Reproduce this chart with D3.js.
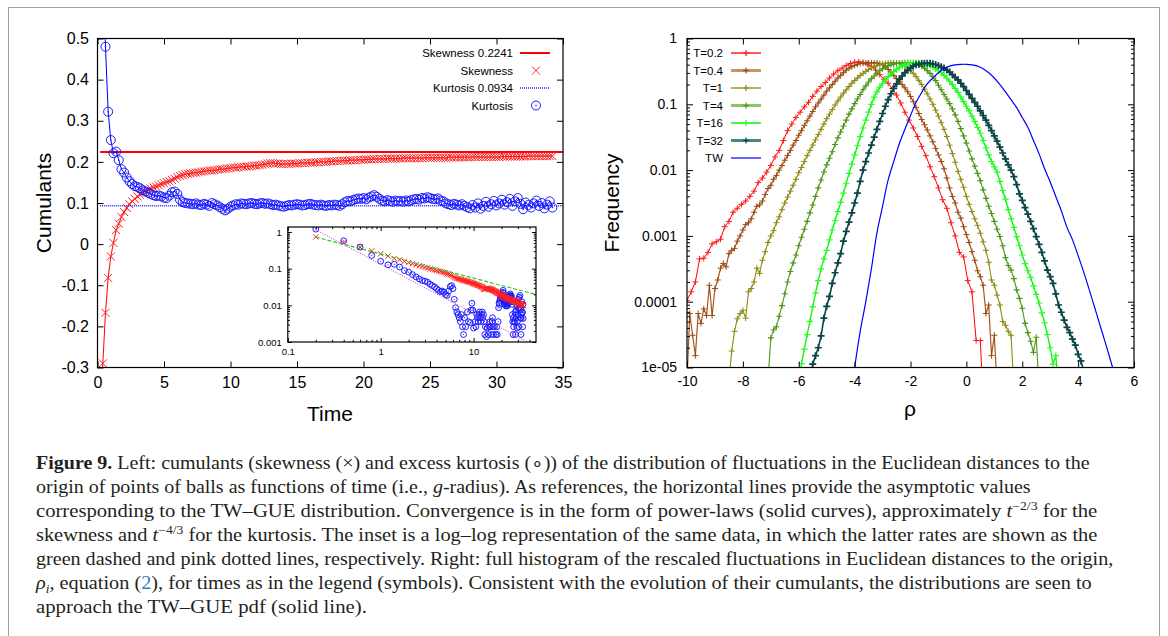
<!DOCTYPE html>
<html>
<head>
<meta charset="utf-8">
<script src="https://cdn.jsdelivr.net/npm/d3@7"></script>
<style>
  body { margin: 0; background: #fff; }
  svg text { font-family: "Liberation Sans", Arial, sans-serif; }
</style>
</head>
<body>
<svg id="fig" width="1168" height="636"></svg>
<script>
// ---------- left panel: cumulants vs time (t = 0.2, 0.4, ... 34.2) ----------
const tStart = 0.2, tStep = 0.2;
const skewness = [
  -0.51,-0.29,-0.167,-0.082,-0.03,0.003,0.034,0.050,0.066,0.078,
  0.088,0.097,0.104,0.110,0.116,0.120,0.125,0.129,0.132,0.135,
  0.138,0.140,0.143,0.146,0.148,0.151,0.153,0.156,0.159,0.163,
  0.166,0.168,0.170,0.171,0.172,0.173,0.174,0.175,0.176,0.177,
  0.178,0.179,0.179,0.180,0.181,0.182,0.182,0.183,0.184,0.185,
  0.186,0.186,0.187,0.188,0.188,0.189,0.189,0.190,0.191,0.191,
  0.192,0.193,0.194,0.196,0.197,0.197,0.196,0.196,0.195,0.195,
  0.195,0.195,0.196,0.196,0.196,0.197,0.197,0.197,0.198,0.198,
  0.198,0.199,0.199,0.200,0.200,0.200,0.201,0.201,0.202,0.202,
  0.202,0.203,0.203,0.203,0.204,0.204,0.204,0.205,0.205,0.205,
  0.206,0.206,0.206,0.207,0.207,0.207,0.207,0.207,0.208,0.208,
  0.208,0.208,0.208,0.208,0.209,0.209,0.209,0.209,0.209,0.209,
  0.209,0.209,0.210,0.210,0.210,0.210,0.210,0.210,0.210,0.210,
  0.210,0.211,0.211,0.211,0.211,0.211,0.211,0.211,0.211,0.211,
  0.212,0.212,0.212,0.212,0.212,0.212,0.212,0.212,0.212,0.212,
  0.212,0.213,0.213,0.213,0.213,0.213,0.213,0.213,0.213,0.213,
  0.213,0.214,0.214,0.214,0.214,0.214,0.214,0.214,0.214,0.214,0.214
];
const kurtosis = [
  1.29,0.67,0.48,0.322,0.253,0.221,0.225,0.204,0.182,0.174,
  0.162,0.153,0.146,0.141,0.139,0.136,0.131,0.128,0.125,0.122,
  0.119,0.117,0.118,0.116,0.113,0.112,0.118,0.126,0.128,0.122,
  0.108,0.102,0.100,0.099,0.098,0.097,0.099,0.096,0.095,0.098,
  0.096,0.093,0.100,0.097,0.094,0.090,0.086,0.082,0.086,0.091,
  0.094,0.097,0.096,0.099,0.098,0.097,0.099,0.100,0.098,0.097,
  0.099,0.100,0.098,0.099,0.097,0.095,0.096,0.094,0.092,0.091,
  0.093,0.095,0.094,0.096,0.097,0.096,0.094,0.095,0.097,0.098,
  0.096,0.095,0.094,0.096,0.094,0.093,0.095,0.094,0.096,0.095,
  0.093,0.097,0.102,0.105,0.104,0.107,0.109,0.111,0.110,0.112,
  0.109,0.113,0.116,0.119,0.115,0.110,0.106,0.104,0.107,0.105,
  0.103,0.106,0.104,0.105,0.103,0.106,0.104,0.107,0.109,0.110,
  0.108,0.112,0.111,0.114,0.112,0.110,0.109,0.111,0.106,0.104,
  0.099,0.097,0.095,0.098,0.096,0.094,0.097,0.093,0.090,0.087,
  0.095,0.089,0.099,0.086,0.093,0.103,0.091,0.097,0.105,0.094,
  0.099,0.108,0.096,0.102,0.110,0.093,0.104,0.112,0.098,0.085,
  0.101,0.095,0.089,0.099,0.106,0.093,0.100,0.087,0.096,0.104,0.089
];
const skewRef = 0.2241, kurtRef = 0.0934;
const timeTicks = [0, 5, 10, 15, 20, 25, 30, 35];
const cumTicks = [-0.3, -0.2, -0.1, 0, 0.1, 0.2, 0.3, 0.4, 0.5];
const leftLegend = ["Skewness 0.2241", "Skewness", "Kurtosis 0.0934", "Kurtosis"];

// inset (log-log of |cumulant - reference|)
const insetXTicks = [0.1, 1, 10];
const insetXLabels = ["0.1", "1", "10"];
const insetYTicks = [0.001, 0.01, 0.1, 1];
const insetYLabels = ["0.001", "0.01", "0.1", "1"];
const greenFit = [[0.2, 0.73], [47, 0.0198]];   // ~ t^-2/3
const pinkFit = [[0.2, 1.15], [38, 0.001]];     // ~ t^-4/3

// ---------- right panel: histograms of rho (log10 frequency per bin) ----------
const histLabels = ["T=0.2", "T=0.4", "T=1", "T=4", "T=16", "T=32"];
const histStart = [-10.0, -10.0, -8.5, -7.1, -6.0, -5.6];
const histStep = [0.15, 0.1, 0.1, 0.1, 0.1, 0.1];
const logFreqT02 = [
  -3.98,-3.85,-3.70,-3.35,-3.34,-3.25,-3.12,-3.09,-3.05,-2.86,
  -2.78,-2.64,-2.58,-2.52,-2.47,-2.40,-2.32,-2.19,-2.12,-2.03,
  -1.93,-1.80,-1.70,-1.55,-1.40,-1.30,-1.20,-1.12,-1.04,-0.97,
  -0.88,-0.80,-0.73,-0.67,-0.60,-0.54,-0.49,-0.45,-0.41,-0.38,
  -0.36,-0.355,-0.365,-0.39,-0.42,-0.48,-0.55,-0.62,-0.68,-0.76,
  -0.86,-0.98,-1.12,-1.24,-1.36,-1.49,-1.64,-1.78,-1.95,-2.10,
  -2.27,-2.45,-2.58,-2.80,-3.0,-3.25,-3.32,-3.68,-3.85,-4.59,
  -4.59,-6
];
const logFreqT04 = [
  -5.2,-4.18,-4.51,-4.82,-4.18,-4.33,-4.11,-4.21,-3.75,-4.21,
  -3.80,-3.67,-3.49,-3.42,-3.47,-3.27,-3.22,-3.19,-3.08,-3.0,
  -2.91,-2.83,-2.80,-2.74,-2.64,-2.55,-2.53,-2.47,-2.37,-2.28,
  -2.23,-2.14,-2.08,-2.0,
  -1.93,-1.85,-1.78,-1.70,-1.62,-1.55,-1.47,-1.40,-1.32,-1.25,
  -1.18,-1.11,-1.04,-0.98,-0.92,-0.86,-0.80,-0.75,-0.70,-0.65,
  -0.60,-0.56,-0.52,-0.48,-0.45,-0.43,
  -0.41,-0.39,-0.38,-0.375,-0.37,-0.37,-0.37,
  -0.37,-0.37,-0.385,-0.40,-0.43,-0.47,-0.51,-0.56,-0.61,-0.65,
  -0.70,-0.75,-0.81,-0.88,-0.96,-1.05,-1.14,-1.23,-1.31,-1.39,
  -1.48,-1.57,-1.67,-1.77,-1.87,-1.98,-2.12,-2.27,-2.40,-2.50,
  -2.64,-2.73,-2.86,-2.98,-3.10,-3.24,-3.37,-3.53,-3.62,-3.75,
  -4.18,-4.05,-4.82,-4.51,-5.3
];
const logFreqT1 = [
  -5.2,-4.75,-4.45,-4.26,-4.18,-4.13,-4.25,-3.85,-3.80,-3.70,
  -3.49,-3.57,-3.37,-3.24,-3.10,-3.0,-2.92,-2.80,-2.71,-2.60,
  -2.50,-2.41,-2.32,-2.23,-2.14,-2.04,-1.96,-1.87,-1.78,-1.70,
  -1.62,-1.54,-1.46,-1.38,-1.30,-1.22,-1.15,-1.08,-1.01,-0.95,
  -0.89,-0.83,-0.78,-0.73,-0.68,-0.64,-0.60,-0.56,-0.53,-0.50,
  -0.47,-0.45,-0.43,-0.41,-0.395,-0.385,-0.377,-0.372,-0.37,-0.37,
  -0.373,-0.38,
  -0.40,-0.42,-0.45,-0.49,-0.53,-0.58,-0.64,-0.70,-0.77,-0.84,
  -0.92,-1.00,-1.09,-1.18,-1.28,-1.38,-1.49,-1.62,-1.75,-1.88,
  -2.02,-2.14,-2.26,-2.40,-2.52,-2.63,-2.74,-2.84,-2.96,-3.09,
  -3.22,-3.40,-3.67,-3.75,-3.90,-4.05,-4.30,-4.36,-4.45,-4.51,
  -5.3
];
const logFreqT4 = [
  -5.2,-4.55,-4.43,-4.38,-4.22,-4.06,-3.88,-3.70,-3.54,-3.41,
  -3.29,-3.15,-3.02,-2.90,-2.78,-2.65,-2.53,-2.40,-2.27,-2.15,
  -2.03,-1.92,-1.82,-1.72,-1.61,-1.51,-1.42,-1.33,-1.24,-1.15,
  -1.07,-0.99,-0.92,-0.85,-0.78,-0.72,-0.66,-0.61,-0.57,-0.53,
  -0.49,-0.46,-0.435,-0.415,-0.40,-0.39,-0.38,-0.375,-0.37,-0.37,
  -0.37,-0.37,-0.375,-0.38,
  -0.40,-0.42,-0.45,-0.49,-0.53,-0.58,-0.64,-0.71,-0.78,-0.85,
  -0.92,-0.99,-1.07,-1.16,-1.26,-1.37,-1.48,-1.59,-1.71,-1.83,
  -1.94,-2.05,
  -2.16,-2.30,-2.43,-2.55,-2.66,-2.78,-2.90,-3.01,-3.15,-3.33,
  -3.45,-3.52,-3.65,-3.82,-3.95,-4.10,-4.33,-4.47,-4.60,-4.77,
  -4.54,-5.3
];
const logFreqT16 = [
  -5.3,-4.94,-4.72,-4.50,-4.30,-4.08,-3.87,-3.68,-3.50,-3.35,
  -3.22,-3.06,-2.91,-2.77,-2.63,-2.49,-2.35,-2.20,-2.05,-1.91,
  -1.77,-1.63,-1.49,-1.36,-1.24,-1.12,-1.00,-0.89,-0.81,-0.74,
  -0.68,-0.63,-0.58,-0.54,-0.50,-0.47,-0.44,-0.42,-0.40,-0.385,
  -0.375,-0.37,-0.368,-0.37,-0.375,-0.385,-0.40,-0.415,-0.435,-0.46,
  -0.49,-0.52,-0.56,-0.60,-0.65,-0.70,-0.76,-0.82,-0.89,-0.96,
  -1.03,-1.10,-1.18,-1.26,-1.35,-1.44,-1.55,-1.66,-1.77,-1.87,
  -1.95,-2.03,-2.17,-2.31,-2.44,-2.60,-2.74,-2.87,-3.01,-3.15,
  -3.29,-3.42,-3.53,-3.63,-3.76,-3.89,-4.02,-4.17,-4.32,-4.50,
  -4.70,-4.95,-4.82,-5.3
];
const logFreqT32 = [
  -5.3,-4.95,-4.82,-4.70,-4.52,-4.25,-4.07,-3.92,-3.72,-3.56,
  -3.41,-3.27,-3.08,-2.93,-2.79,-2.65,-2.50,-2.35,-2.17,-2.00,
  -1.87,-1.74,-1.62,-1.50,-1.38,-1.26,-1.14,-1.03,-0.93,-0.84,
  -0.76,-0.69,-0.62,-0.57,-0.52,-0.48,-0.45,-0.42,-0.40,-0.39,
  -0.38,-0.375,-0.375,-0.378,-0.385,-0.395,-0.41,-0.43,-0.45,-0.48,
  -0.51,-0.55,-0.59,-0.63,-0.68,-0.73,-0.79,-0.85,-0.91,-0.97,
  -1.03,-1.10,-1.17,-1.24,-1.32,-1.40,-1.48,-1.56,-1.65,-1.74,
  -1.83,-1.92,-2.00,-2.10,-2.22,-2.36,-2.46,-2.57,-2.67,-2.78,
  -2.89,-3.01,-3.13,-3.25,-3.38,-3.52,-3.62,-3.72,-3.88,-4.05,
  -4.16,-4.28,-4.39,-4.47,-4.57,-4.66,-4.80,-4.90,-5.05,-5.3
];
// TW-GUE pdf
const twRho = [-4.0,-3.8,-3.6,-3.4,-3.2,-3.0,-2.8,-2.6,-2.4,-2.2,-2.0,-1.8,-1.6,-1.4,-1.2,-1.0,
  -0.8,-0.6,-0.4,-0.2,0,0.2,0.4,0.6,0.8,1.0,1.2,1.4,1.6,1.8,2.0,2.2,2.4,2.6,2.8,3.0,3.2,3.4,
  3.6,3.8,4.0,4.2,4.4,4.6,4.8,5.0,5.2,5.3];
const twLogFreq = [-5.0,-4.45,-4.0,-3.5,-2.95,-2.55,-2.15,-1.87,-1.6,-1.38,-1.17,-0.97,-0.82,
  -0.69,-0.6,-0.52,-0.46,-0.42,-0.40,-0.393,-0.392,-0.40,-0.42,-0.46,-0.52,-0.6,-0.7,-0.81,
  -0.93,-1.05,-1.2,-1.35,-1.55,-1.75,-1.98,-2.18,-2.4,-2.62,-2.87,-3.06,-3.3,-3.55,-3.82,
  -4.1,-4.38,-4.66,-4.95,-5.1];
const rhoTicks = [-10, -8, -6, -4, -2, 0, 2, 4, 6];
const freqTicks = [1e-5, 1e-4, 1e-3, 1e-2, 1e-1, 1];
const freqLabels = ["1e-05", "0.0001", "0.001", "0.01", "0.1", "1"];

// ---------- drawing ----------
const svg = d3.select("#fig");
svg.append("rect").attr("x", 8.5).attr("y", 7.5).attr("width", 1151).attr("height", 650)
  .attr("fill", "none").attr("stroke", "#a0a0a0").attr("stroke-width", 1);

const pow10 = v => Math.pow(10, v);
const crossPath = s => `M${-s},${-s}L${s},${s}M${-s},${s}L${s},${-s}`;
const plusPath = s => `M${-s},0H${s}M0,${-s}V${s}`;
const minorLog = (lo, hi) => {
  const out = [];
  for (let e = lo; e < hi; e++) for (let m = 2; m <= 9; m++) out.push(m * Math.pow(10, e));
  return out;
};

// frame + inward ticks on all four sides, using d3 axes
function drawAxes(g, xs, ys, o) {
  const [x0, x1] = xs.range(), [y1, y0] = ys.range();
  const axes = [
    [d3.axisBottom(xs), y1, "x", o.xTicks, o.xFmt, o.tick],
    [d3.axisTop(xs), y0, "x", o.xTicks, () => "", o.tick],
    [d3.axisLeft(ys), x0, "y", o.yTicks, o.yFmt, o.tick],
    [d3.axisRight(ys), x1, "y", o.yTicks, () => "", o.tick]
  ];
  if (o.xMinor) {
    axes.push([d3.axisBottom(xs), y1, "x", o.xMinor, () => "", o.minor]);
    axes.push([d3.axisTop(xs), y0, "x", o.xMinor, () => "", o.minor]);
  }
  if (o.yMinor) {
    axes.push([d3.axisLeft(ys), x0, "y", o.yMinor, () => "", o.minor]);
    axes.push([d3.axisRight(ys), x1, "y", o.yMinor, () => "", o.minor]);
  }
  axes.forEach(([ax, pos, dir, vals, fmt, len]) => {
    ax.tickValues(vals).tickFormat(fmt).tickSizeInner(-len).tickSizeOuter(0)
      .tickPadding(dir === "x" ? o.xPad : o.yPad);
    const a = g.append("g")
      .attr("transform", dir === "x" ? `translate(0,${pos})` : `translate(${pos},0)`)
      .call(ax);
    a.select(".domain").remove();
    a.selectAll(".tick line").attr("stroke", "#000").attr("stroke-width", 1);
    a.selectAll("text").attr("font-family", "Liberation Sans, Arial, sans-serif")
      .attr("font-size", o.font).attr("fill", "#000");
  });
  g.append("rect").attr("x", x0).attr("y", y0).attr("width", x1 - x0).attr("height", y1 - y0)
    .attr("fill", "none").attr("stroke", "#000").attr("stroke-width", 1.2);
}

// ===== left panel =====
const x = d3.scaleLinear().domain([0, 35]).range([97.5, 563]);
const y = d3.scaleLinear().domain([-0.3, 0.5]).range([367.5, 38.5]);
const left = svg.append("g");

svg.append("clipPath").attr("id", "clipL").append("rect")
  .attr("x", 97.5).attr("y", 38.5).attr("width", 465.5).attr("height", 329);

const tOf = i => tStart + i * tStep;
const plotL = left.append("g").attr("clip-path", "url(#clipL)");

// asymptotic reference lines
plotL.append("line").attr("x1", x(tStart)).attr("x2", x(35)).attr("y1", y(skewRef)).attr("y2", y(skewRef))
  .attr("stroke", "#ff0000").attr("stroke-width", 2);
// skewness
plotL.append("path").datum(skewness)
  .attr("d", d3.line().x((d, i) => x(tOf(i))).y(d => y(d)))
  .attr("fill", "none").attr("stroke", "#ff0000").attr("stroke-width", 1);
plotL.selectAll(".skx").data(skewness).enter().append("path")
  .attr("transform", (d, i) => `translate(${x(tOf(i))},${y(d)})`)
  .attr("d", crossPath(4)).attr("stroke", "#ff2020").attr("stroke-width", 1).attr("fill", "none");
plotL.append("line").attr("x1", x(tStart)).attr("x2", x(35)).attr("y1", y(kurtRef)).attr("y2", y(kurtRef))
  .attr("stroke", "#2a2aff").attr("stroke-width", 1.5).attr("stroke-dasharray", "1,1");
// kurtosis
plotL.append("path").datum(kurtosis)
  .attr("d", d3.line().x((d, i) => x(tOf(i))).y(d => y(d)))
  .attr("fill", "none").attr("stroke", "#0000ff").attr("stroke-width", 1);
const kc = plotL.selectAll(".kc").data(kurtosis).enter().append("g")
  .attr("transform", (d, i) => `translate(${x(tOf(i))},${y(d)})`);
kc.append("circle").attr("r", 4.5).attr("fill", "none").attr("stroke", "#1a1aff").attr("stroke-width", 1);
kc.append("circle").attr("r", 0.8).attr("fill", "#1a1aff");

drawAxes(left, x, y, {
  xTicks: timeTicks, yTicks: cumTicks, tick: 6, font: "16px", xPad: 9, yPad: 8.5,
  xFmt: d => String(d), yFmt: d => (d === 0 ? "0" : d.toFixed(1))
});

left.append("text").attr("transform", "translate(51,203) rotate(-90)")
  .attr("text-anchor", "middle").attr("font-size", "21px").text("Cumulants");
left.append("text").attr("x", 330).attr("y", 421)
  .attr("text-anchor", "middle").attr("font-size", "21px").text("Time");

// legend
const legL = left.append("g");
leftLegend.forEach((lab, i) => {
  const cy = 53 + i * 17.5;
  legL.append("text").attr("x", 513).attr("y", cy).attr("dy", "0.35em")
    .attr("text-anchor", "end").attr("font-size", "11.5px").text(lab);
  if (i === 0) legL.append("line").attr("x1", 520).attr("x2", 550).attr("y1", cy).attr("y2", cy)
    .attr("stroke", "#ff0000").attr("stroke-width", 2);
  if (i === 1) legL.append("path").attr("transform", `translate(536,${cy})`).attr("d", crossPath(4))
    .attr("stroke", "#ff2020").attr("fill", "none");
  if (i === 2) legL.append("line").attr("x1", 520).attr("x2", 550).attr("y1", cy).attr("y2", cy)
    .attr("stroke", "#2a2aff").attr("stroke-width", 1.5).attr("stroke-dasharray", "1,1");
  if (i === 3) {
    legL.append("circle").attr("cx", 536).attr("cy", cy).attr("r", 4.5)
      .attr("fill", "none").attr("stroke", "#1a1aff");
    legL.append("circle").attr("cx", 536).attr("cy", cy).attr("r", 0.8).attr("fill", "#1a1aff");
  }
});

// ----- inset -----
const ix = d3.scaleLog().domain([0.1, 47]).range([287.8, 536]);
const iy = d3.scaleLog().domain([0.001, 1.37]).range([342, 227]);
const inset = left.append("g");
inset.append("rect").attr("x", 287.8).attr("y", 227).attr("width", 248.2).attr("height", 115).attr("fill", "#fff");
svg.append("clipPath").attr("id", "clipI").append("rect")
  .attr("x", 287.8).attr("y", 227).attr("width", 248.2).attr("height", 115);
const plotI = inset.append("g").attr("clip-path", "url(#clipI)");

const kDev = kurtosis.map((d, i) => [tOf(i), Math.abs(d - kurtRef)]).filter(d => d[1] > 0);
const sDev = skewness.map((d, i) => [tOf(i), Math.abs(d - skewRef)]).filter(d => d[1] > 0);

const ic = plotI.selectAll(".ic").data(kDev).enter().append("g")
  .attr("transform", d => `translate(${ix(d[0])},${iy(d[1])})`);
ic.append("circle").attr("r", 2.9).attr("fill", "none").attr("stroke", "#1a1aff").attr("stroke-width", 1);
ic.append("circle").attr("r", 0.6).attr("fill", "#1a1aff");
plotI.selectAll(".isx").data(sDev).enter().append("path")
  .attr("transform", d => `translate(${ix(d[0])},${iy(d[1])})`)
  .attr("d", crossPath(2.6)).attr("stroke", "#ff2020").attr("fill", "none");

const fitLine = d3.line().x(d => ix(d[0])).y(d => iy(d[1]));
plotI.append("path").datum(greenFit).attr("d", fitLine).attr("fill", "none")
  .attr("stroke", "#20d020").attr("stroke-width", 1.2).attr("stroke-dasharray", "4,2");
plotI.append("path").datum(pinkFit).attr("d", fitLine).attr("fill", "none")
  .attr("stroke", "#e040e0").attr("stroke-width", 1.1).attr("stroke-dasharray", "1,1.5");

drawAxes(inset, ix, iy, {
  xTicks: insetXTicks, yTicks: insetYTicks, tick: 4, minor: 2.2, font: "9.5px", xPad: 6, yPad: 6,
  xMinor: minorLog(-1, 2).filter(v => v < 47), yMinor: minorLog(-3, 0),
  xFmt: d => insetXLabels[insetXTicks.indexOf(d)], yFmt: d => insetYLabels[insetYTicks.indexOf(d)]
});

// ===== right panel =====
const xr = d3.scaleLinear().domain([-10, 6]).range([687, 1134]);
const yr = d3.scaleLog().domain([1e-5, 1]).range([367.5, 38.5]);
const right = svg.append("g");
svg.append("clipPath").attr("id", "clipR").append("rect")
  .attr("x", 687).attr("y", 38.5).attr("width", 447).attr("height", 329);
const plotR = right.append("g").attr("clip-path", "url(#clipR)");

const histLogs = [logFreqT02, logFreqT04, logFreqT1, logFreqT4, logFreqT16, logFreqT32];
const histStyle = [
  { line: "#ff0000", mark: "#ff1a1a", lw: 1, mw: 1, ms: 3, lg: "#ff0000", lgw: 1.3 },
  { line: "#a8561e", mark: "#984a12", lw: 1.2, mw: 1, ms: 3, lg: "#c99466", lgw: 3 },
  { line: "#8e8c0a", mark: "#8a8a14", lw: 1.1, mw: 1, ms: 3, lg: "#8b8b10", lgw: 1.3 },
  { line: "#5c9e24", mark: "#4e9418", lw: 1.2, mw: 1.1, ms: 3, lg: "#8cc56a", lgw: 3 },
  { line: "#10f010", mark: "#22ff22", lw: 1.3, mw: 1.2, ms: 3.2, lg: "#22ee22", lgw: 1.6 },
  { line: "#0b4646", mark: "#0b4444", lw: 1.6, mw: 1.7, ms: 3.5, lg: "#4d8585", lgw: 3 }
];
const hist = histLabels.map((lab, k) => ({
  label: lab,
  pts: histLogs[k].map((v, j) => [histStart[k] + j * histStep[k], pow10(v)]),
  style: histStyle[k]
}));

const hLine = d3.line().x(d => xr(d[0])).y(d => yr(d[1]));
hist.forEach(s => {
  plotR.append("path").datum(s.pts).attr("d", hLine).attr("fill", "none")
    .attr("stroke", s.style.line).attr("stroke-width", s.style.lw);
  plotR.selectAll(null).data(s.pts).enter().append("path")
    .attr("transform", d => `translate(${xr(d[0])},${yr(d[1])})`)
    .attr("d", plusPath(s.style.ms)).attr("stroke", s.style.mark)
    .attr("stroke-width", s.style.mw).attr("fill", "none");
});
const tw = twRho.map((r, i) => [r, pow10(twLogFreq[i])]);
plotR.append("path").datum(tw).attr("d", hLine.curve(d3.curveCatmullRom))
  .attr("fill", "none").attr("stroke", "#0000ff").attr("stroke-width", 1.2);

drawAxes(right, xr, yr, {
  xTicks: rhoTicks, yTicks: freqTicks, tick: 6, minor: 3, font: "14px", xPad: 9, yPad: 10,
  yMinor: minorLog(-5, 0),
  xFmt: d => String(d), yFmt: d => freqLabels[freqTicks.indexOf(d)]
});

right.append("text").attr("transform", "translate(619,203) rotate(-90)")
  .attr("text-anchor", "middle").attr("font-size", "21px").text("Frequency");
right.append("text").attr("x", 910).attr("y", 416)
  .attr("text-anchor", "middle").attr("font-size", "21px").text("ρ");

// legend
const legR = right.append("g");
const legRows = hist.map(s => ({ label: s.label, style: s.style }))
  .concat([{ label: "TW", style: null }]);
legRows.forEach((r, i) => {
  const cy = 53 + i * 17.5;
  legR.append("text").attr("x", 723).attr("y", cy).attr("dy", "0.35em")
    .attr("text-anchor", "end").attr("font-size", "11.5px").text(r.label);
  if (r.style) {
    legR.append("line").attr("x1", 731).attr("x2", 761).attr("y1", cy).attr("y2", cy)
      .attr("stroke", r.style.lg).attr("stroke-width", r.style.lgw);
    legR.append("path").attr("transform", `translate(746,${cy})`).attr("d", plusPath(3))
      .attr("stroke", r.style.mark).attr("stroke-width", 1.2).attr("fill", "none");
  } else {
    legR.append("line").attr("x1", 731).attr("x2", 761).attr("y1", cy).attr("y2", cy)
      .attr("stroke", "#0000ff").attr("stroke-width", 1.2);
  }
});

// ===== caption =====
const capLines = [
  [{ t: "Figure 9.", b: 1 }, { t: " Left: cumulants (skewness (×) and excess kurtosis (∘)) of the distribution of fluctuations in the Euclidean distances to the" }],
  [{ t: "origin of points of balls as functions of time (i.e., " }, { t: "g", i: 1 }, { t: "-radius). As references, the horizontal lines provide the asymptotic values" }],
  [{ t: "corresponding to the TW–GUE distribution. Convergence is in the form of power-laws (solid curves), approximately " }, { t: "t", i: 1 }, { t: "−2/3", sup: 1 }, { t: " for the" }],
  [{ t: "skewness and " }, { t: "t", i: 1 }, { t: "−4/3", sup: 1 }, { t: " for the kurtosis. The inset is a log–log representation of the same data, in which the latter rates are shown as the" }],
  [{ t: "green dashed and pink dotted lines, respectively. Right: full histogram of the rescaled fluctuations in Euclidean distances to the origin," }],
  [{ t: "ρ", i: 1 }, { t: "i", i: 1, sub: 1 }, { t: ", equation (" }, { t: "2", c: "#2f7fb5" }, { t: "), for times as in the legend (symbols). Consistent with the evolution of their cumulants, the distributions are seen to" }],
  [{ t: "approach the TW–GUE pdf (solid line)." }]
];
const capEnds = [1090, 1031, 1098, 1098, 1114, 1092, 367];
const capX = 36;
capLines.forEach((parts, li) => {
  const tx = svg.append("text").attr("font-size", "18px").attr("fill", "#231f20")
    .style("font-family", "'Liberation Serif', 'Times New Roman', serif");
  let shift = 0;
  parts.forEach(p => {
    const want = p.sup ? -7 : p.sub ? 4 : 0;
    const ts = tx.append("tspan").text(p.t).attr("dy", want - shift);
    shift = want;
    if (p.b) ts.attr("font-weight", "bold");
    if (p.i) ts.attr("font-style", "italic");
    if (p.sup || p.sub) ts.attr("font-size", "12px");
    if (p.c) ts.attr("fill", p.c);
  });
  const w = tx.node().getComputedTextLength();
  const sx = (capEnds[li] - capX) / w;
  tx.attr("transform", `translate(${capX},${469 + li * 24}) scale(${sx},1)`);
});
</script>
</body>
</html>
